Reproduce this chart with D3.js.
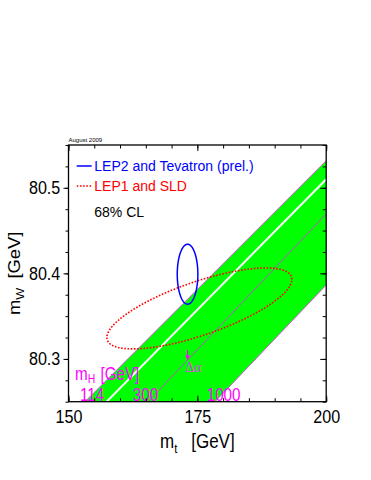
<!DOCTYPE html>
<html lang="en">

<head>
  <meta charset="UTF-8" />
  <title>mW vs mt</title>
  <script src="https://d3js.org/d3.v7.min.js"></script>
  <style>
    *,
    :before,
    :after {
      margin: 0;
      padding: 0;
      box-sizing: border-box;
    }

    body {
      background: #fff;
      width: 371px;
      height: 480px;
      overflow: hidden;
    }

    svg {
      display: block;
      font-family: 'Liberation Sans', Arial, Helvetica, sans-serif;
    }

    .tick text {
      font-family: 'Liberation Sans', Arial, Helvetica, sans-serif;
      font-size: 18.5px;
      fill: #000;
    }

    .tick line {
      stroke: #000;
      stroke-width: 1;
    }
  </style>
</head>

<body>
  <script>
    // data
    const mtDomain = [150, 200];
    const mwDomain = [80.25, 80.55];
    const xTicks = [150, 175, 200];
    const yTicks = [80.3, 80.4, 80.5];
    const legendLabels = ['LEP2 and Tevatron (prel.)', 'LEP1 and SLD'];
    const clText = '68% CL';
    const dateText = 'August 2009';

    // SM band lines, [mt, mW] at lower and upper end
    const mh114Line = [[153.2, 80.25], [200, 80.5317]];
    const centreLine = [[157.4, 80.25], [200, 80.5099]];
    const mh300Line = [[165.45, 80.25], [200, 80.4694]];
    const mh1000Line = [[178.42, 80.25], [200, 80.3864]];
    const mhLabels = ['114', '300', '1000'];

    // LEP2 + Tevatron (direct)
    const lep2Centre = [173.1, 80.399];
    const lep2Radius = [2.0, 0.035];
    // LEP1 + SLD (indirect)
    const lep1Centre = [175.4, 80.359];
    const lep1Radius = [17.95, 0.0473];
    const lep1Tilt = 0.77;

    // delta alpha arrow
    const dAlphaArrow = [[173.1, 80.3105], [173.1, 80.2985]];

    //constants
    const [w, h] = [371, 480];
    const [plotL, plotR, plotT, plotB] = [68.5, 326.2, 145, 401.7];
    const magenta = '#ff00ff';

    const x = d3.scaleLinear().domain(mtDomain).range([plotL, plotR]);
    const y = d3.scaleLinear().domain(mwDomain).range([plotB, plotT]);
    const line = d3.line().x(d => x(d[0])).y(d => y(d[1]));

    const svg = d3.select('body')
      .append('svg')
      .attr('width', w)
      .attr('height', h);

    svg.append('clipPath')
      .attr('id', 'plotArea')
      .append('rect')
      .attr('x', plotL)
      .attr('y', plotT)
      .attr('width', plotR - plotL)
      .attr('height', plotB - plotT);

    const plot = svg.append('g').attr('clip-path', 'url(#plotArea)');

    //green band
    plot.append('path')
      .attr('d', line([mh114Line[0], mh114Line[1], mh1000Line[1], mh1000Line[0]]) + 'Z')
      .attr('fill', '#00ff00');

    [mh114Line, mh1000Line].forEach(l => {
      plot.append('path')
        .attr('d', line(l))
        .attr('stroke', '#e040e0')
        .attr('stroke-width', 0.9)
        .attr('fill', 'none');
    });

    plot.append('path')
      .attr('d', line(centreLine))
      .attr('stroke', '#fff')
      .attr('stroke-width', 2)
      .attr('fill', 'none');

    plot.append('path')
      .attr('d', line(mh300Line))
      .attr('stroke', '#c050c8')
      .attr('stroke-width', 1)
      .attr('fill', 'none');

    //delta alpha arrow
    const [a0, a1] = dAlphaArrow;
    plot.append('line')
      .attr('x1', x(a0[0])).attr('y1', y(a0[1]))
      .attr('x2', x(a1[0])).attr('y2', y(a1[1]) - 3)
      .attr('stroke', magenta)
      .attr('stroke-width', 1);
    plot.append('path')
      .attr('d', `M${x(a1[0]) - 2.3},${y(a1[1]) - 5}L${x(a1[0]) + 2.3},${y(a1[1]) - 5}L${x(a1[0])},${y(a1[1])}Z`)
      .attr('fill', magenta);
    svg.append('text')
      .attr('x', x(a1[0]) - 2.5)
      .attr('y', y(a1[1]) + 12)
      .attr('font-family', "'Liberation Serif', 'DejaVu Serif', serif")
      .attr('font-size', 14)
      .attr('fill', '#e040e0')
      .text('\u0394\u03b1');

    //ellipses
    const angles = d3.range(0, 2 * Math.PI + 0.001, Math.PI / 120);
    plot.append('path')
      .attr('d', d3.line()
        .x(t => x(lep1Centre[0] + lep1Radius[0] * Math.cos(t)))
        .y(t => y(lep1Centre[1] + lep1Radius[1] * Math.cos(t - lep1Tilt)))(angles))
      .attr('fill', 'none')
      .attr('stroke', '#ff0000')
      .attr('stroke-width', 1.6)
      .attr('stroke-dasharray', '1.6 1.6');

    plot.append('path')
      .attr('d', d3.line()
        .x(t => x(lep2Centre[0] + lep2Radius[0] * Math.cos(t)))
        .y(t => y(lep2Centre[1] + lep2Radius[1] * Math.sin(t)))(angles))
      .attr('fill', 'none')
      .attr('stroke', '#0000ff')
      .attr('stroke-width', 1.5);

    //stretched root-style text
    function rootText(px, py, size, anchor) {
      return svg.append('text')
        .attr('transform', `translate(${px},${py}) scale(0.87,1)`)
        .attr('font-size', size)
        .attr('text-anchor', anchor || 'start');
    }

    //mH labels
    const mH = rootText(75, 379.5, 17.5).attr('fill', magenta);
    mH.append('tspan').text('m');
    mH.append('tspan').attr('font-size', 12).attr('dy', 3).text('H');
    mH.append('tspan').attr('dx', 6).attr('dy', -3).text('[GeV]');

    const labelDx = [-5, -15.3, -8.3];
    [mh114Line, mh300Line, mh1000Line].forEach((l, i) => {
      rootText(x(l[0][0]) + labelDx[i], 400.5, 17.5).attr('fill', magenta).text(mhLabels[i]);
    });

    //axes
    function ticks(axis, transform, values, size, fmt) {
      const g = svg.append('g')
        .attr('transform', transform)
        .call(axis.tickValues(values).tickSize(size).tickFormat(fmt || ''));
      g.select('.domain').remove();
      g.selectAll('text').attr('transform', 'scale(0.87,1)');
      return g;
    }
    const xMinor = d3.range(150, 200.01, 5);
    const yMinor = d3.range(80.25, 80.551, 0.025);

    ticks(d3.axisBottom(x), `translate(0,${plotB})`, xMinor, -3.5);
    ticks(d3.axisBottom(x).tickPadding(8), `translate(0,${plotB})`, xTicks, -6, d3.format('d'));
    ticks(d3.axisTop(x), `translate(0,${plotT})`, xMinor, -3.5);
    ticks(d3.axisTop(x), `translate(0,${plotT})`, xTicks, -6);
    ticks(d3.axisLeft(y), `translate(${plotL},0)`, yMinor, 3);
    ticks(d3.axisLeft(y).tickPadding(4.5), `translate(${plotL},0)`, yTicks, 5, d3.format('.1f'));
    ticks(d3.axisRight(y), `translate(${plotR},0)`, yMinor, -3.5);
    ticks(d3.axisRight(y), `translate(${plotR},0)`, yTicks, -6);

    svg.append('rect')
      .attr('x', plotL)
      .attr('y', plotT)
      .attr('width', plotR - plotL)
      .attr('height', plotB - plotT)
      .attr('fill', 'none')
      .attr('stroke', '#000')
      .attr('stroke-width', 1.3);

    //axis titles
    const xTitle = rootText(x(175), 448, 19.5, 'middle');
    xTitle.append('tspan').text('m');
    xTitle.append('tspan').attr('font-size', 13).attr('dy', 5).text('t');
    xTitle.append('tspan').attr('dx', 16).attr('dy', -5).text('[GeV]');

    const yTitle = svg.append('text')
      .attr('transform', `translate(20,${y(80.4)}) rotate(-90) scale(1.15,1)`)
      .attr('font-size', 16)
      .attr('text-anchor', 'middle');
    yTitle.append('tspan').text('m');
    yTitle.append('tspan').attr('font-size', 11).attr('dy', 4).text('W');
    yTitle.append('tspan').attr('dx', 8).attr('dy', -4).text('[GeV]');

    //date
    svg.append('text')
      .attr('x', plotL)
      .attr('y', 141.7)
      .attr('font-size', 6)
      .text(dateText);

    //legend
    const legendY = [166, 186];
    const legendStyle = [['#0000ff', null], ['#ff0000', '1.6 1.6']];
    legendLabels.forEach((lab, i) => {
      svg.append('line')
        .attr('x1', 76.7).attr('x2', 91.7)
        .attr('y1', legendY[i]).attr('y2', legendY[i])
        .attr('stroke', legendStyle[i][0])
        .attr('stroke-width', 1.5)
        .attr('stroke-dasharray', legendStyle[i][1]);
      svg.append('text')
        .attr('x', 94.3)
        .attr('y', legendY[i] + 5)
        .attr('font-size', 14)
        .attr('fill', legendStyle[i][0])
        .text(lab);
    });

    svg.append('text')
      .attr('x', 94.3)
      .attr('y', 217.3)
      .attr('font-size', 14)
      .text(clText);
  </script>
</body>

</html>
